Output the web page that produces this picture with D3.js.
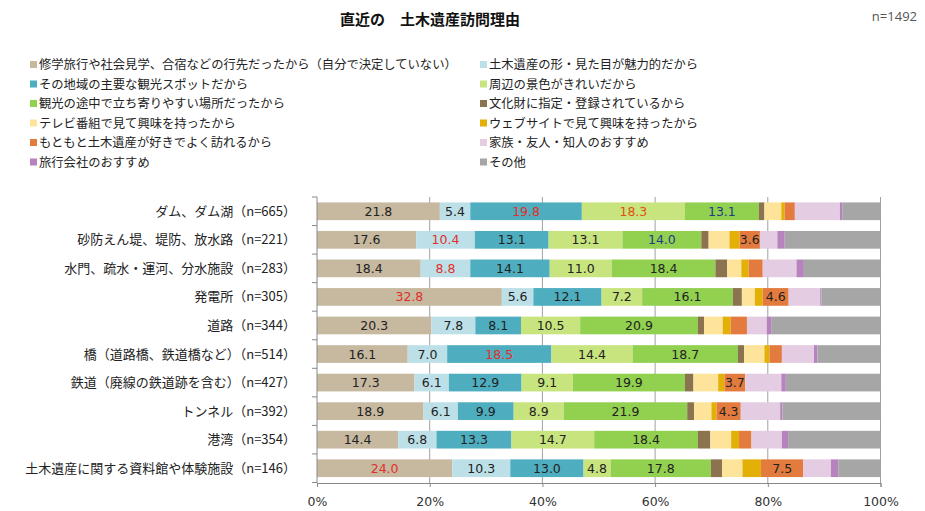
<!DOCTYPE html>
<html>
<head>
<meta charset="utf-8">
<script src="https://cdn.jsdelivr.net/npm/d3@7"></script>
<style>
  body { margin: 0; background: #fff; }
  svg { display: block; }
</style>
</head>
<body>
<svg id="chart" width="925" height="511"></svg>
<script>
const series = [
    "修学旅行や社会見学、合宿などの行先だったから（自分で決定していない）",
    "土木遺産の形・見た目が魅力的だから",
    "その地域の主要な観光スポットだから",
    "周辺の景色がきれいだから",
    "観光の途中で立ち寄りやすい場所だったから",
    "文化財に指定・登録されているから",
    "テレビ番組で見て興味を持ったから",
    "ウェブサイトで見て興味を持ったから",
    "もともと土木遺産が好きでよく訪れるから",
    "家族・友人・知人のおすすめ",
    "旅行会社のおすすめ",
    "その他"
];

const categories = [
    "ダム、ダム湖（n=665）",
    "砂防えん堤、堤防、放水路（n=221）",
    "水門、疏水・運河、分水施設（n=283）",
    "発電所（n=305）",
    "道路（n=344）",
    "橋（道路橋、鉄道橋など）（n=514）",
    "鉄道（廃線の鉄道跡を含む）（n=427）",
    "トンネル（n=392）",
    "港湾（n=354）",
    "土木遺産に関する資料館や体験施設（n=146）"
];

// one row per category, one value per series (%)
const values = [
    [21.8, 5.4, 19.8, 18.3, 13.1, 1.0, 3.0, 0.6, 1.8, 8.0, 0.4, 6.8],
    [17.6, 10.4, 13.1, 13.1, 14.0, 1.3, 3.7, 1.8, 3.6, 3.1, 1.3, 17.0],
    [18.4, 8.8, 14.1, 11.0, 18.4, 2.1, 2.5, 1.3, 2.5, 6.0, 1.3, 13.6],
    [32.8, 5.6, 12.1, 7.2, 16.1, 1.6, 2.3, 1.4, 4.6, 5.6, 0.2, 10.5],
    [20.3, 7.8, 8.1, 10.5, 20.9, 1.1, 3.3, 1.4, 2.9, 3.5, 0.9, 19.3],
    [16.1, 7.0, 18.5, 14.4, 18.7, 1.1, 3.6, 0.9, 2.2, 5.7, 0.6, 11.2],
    [17.3, 6.1, 12.9, 9.1, 19.9, 1.5, 4.4, 1.1, 3.7, 6.4, 0.8, 16.8],
    [18.9, 6.1, 9.9, 8.9, 21.9, 1.2, 3.1, 0.9, 4.3, 7.0, 0.4, 17.4],
    [14.4, 6.8, 13.3, 14.7, 18.4, 2.2, 3.7, 1.4, 2.2, 5.4, 1.1, 16.4],
    [24.0, 10.3, 13.0, 4.8, 17.8, 2.0, 3.6, 3.3, 7.5, 4.9, 1.3, 7.5]
];

const xTicks = [0, 20, 40, 60, 80, 100];

const colors = ["#c7b8a0", "#bde0e8", "#4eaebf", "#c8e47e", "#92d050", "#8c7350",
    "#fde49a", "#e3b008", "#e27b3d", "#e4cce2", "#b783bf", "#a6a6a6"];

// which segments carry a number, and the odd coloured ones
const labeledSeries = [0, 1, 2, 3, 4, 8];
const labelColor = {
    "0-2": "#e0302a", "0-3": "#e05010", "0-4": "#1f3c88",
    "1-1": "#e0302a", "1-4": "#1f3c88",
    "2-1": "#e0302a", "3-0": "#e0302a", "5-2": "#e0302a", "9-0": "#e0302a"
};

const svg = d3.select("#chart");
const jp = "'Noto Sans CJK JP', 'Noto Sans', sans-serif";
const num = "'DejaVu Sans', Verdana, sans-serif";

const x = d3.scaleLinear().domain([0, 100]).range([317, 880.5]);
const y = d3.scaleBand().domain(categories).range([197, 482.5])
    .paddingInner(0.38).paddingOuter(0.19);

// title
svg.append("text")
    .attr("x", 430).attr("y", 25)
    .attr("text-anchor", "middle")
    .style("font-family", jp).style("font-size", "15px").style("font-weight", "bold")
    .attr("fill", "#111")
    .text("直近の　土木遺産訪問理由");

svg.append("text")
    .attr("x", 917).attr("y", 21)
    .attr("text-anchor", "end")
    .style("font-family", "'Open Sans', sans-serif").style("font-size", "13px")
    .attr("fill", "#555")
    .text("n=1492");

// legend, two columns
const legend = svg.append("g");
series.forEach((s, i) => {
    const col = i % 2, row = Math.floor(i / 2);
    const lx = col === 0 ? 30 : 480;
    const ly = 65 + row * 19.5;
    legend.append("rect")
        .attr("x", lx).attr("y", ly - 4).attr("width", 7).attr("height", 7)
        .attr("fill", colors[i]);
    legend.append("text")
        .attr("x", lx + 9).attr("y", ly + 4)
        .style("font-family", jp).style("font-size", "12.3px")
        .attr("fill", "#222")
        .text(s);
});

// gridlines
svg.append("g")
    .selectAll("line")
    .data(xTicks.slice(1))
    .join("line")
    .attr("x1", d => x(d)).attr("x2", d => x(d))
    .attr("y1", 197).attr("y2", 483)
    .attr("stroke", "#a0a0a0").attr("stroke-width", 1);

// stacked bars
const stack = d3.stack()
    .keys(d3.range(series.length))
    .value((row, k) => row[k]);
const layers = stack(values);

const bars = svg.append("g");
layers.forEach((layer, si) => {
    bars.selectAll(null)
        .data(layer.map((d, ri) => ({d, ri})))
        .join("rect")
        .attr("x", o => x(o.d[0]))
        .attr("y", o => y(categories[o.ri]))
        .attr("width", o => x(o.d[1]) - x(o.d[0]))
        .attr("height", y.bandwidth())
        .attr("fill", colors[si]);
});

// value labels
layers.forEach((layer, si) => {
    if (!labeledSeries.includes(si)) return;
    const items = layer.map((d, ri) => ({d, ri, v: values[ri][si]}))
        .filter(o => o.v >= 3.5);
    bars.selectAll(null)
        .data(items)
        .join("text")
        .attr("x", o => (x(o.d[0]) + x(o.d[1])) / 2)
        .attr("y", o => y(categories[o.ri]) + y.bandwidth() / 2 + 4.5)
        .attr("text-anchor", "middle")
        .style("font-family", num).style("font-size", "12.5px")
        .attr("fill", o => labelColor[o.ri + "-" + si] || "#222")
        .text(o => o.v.toFixed(1));
});

// x axis
const xAxis = svg.append("g")
    .attr("transform", "translate(0,483)")
    .call(d3.axisBottom(x).tickValues(xTicks).tickSize(4).tickFormat(d => d + "%"));
xAxis.select(".domain").attr("stroke", "#888");
xAxis.selectAll(".tick line").attr("stroke", "#888");
xAxis.selectAll(".tick text")
    .attr("y", 14)
    .style("font-family", num).style("font-size", "12.5px")
    .attr("fill", "#333");

// y axis with ticks between the bands
const yAxis = svg.append("g").attr("transform", "translate(317,0)");
yAxis.append("line")
    .attr("x1", 0).attr("x2", 0).attr("y1", 197).attr("y2", 483)
    .attr("stroke", "#888");
const step = y.step();
yAxis.selectAll(".yt")
    .data(d3.range(categories.length + 1))
    .join("line")
    .attr("class", "yt")
    .attr("x1", -5).attr("x2", 0)
    .attr("y1", i => 197 + i * step).attr("y2", i => 197 + i * step)
    .attr("stroke", "#888");

svg.append("g")
    .selectAll("text")
    .data(categories)
    .join("text")
    .attr("x", 296)
    .attr("y", d => y(d) + y.bandwidth() / 2 + 4.5)
    .attr("text-anchor", "end")
    .style("font-family", jp).style("font-size", "13px")
    .attr("fill", "#222")
    .text(d => d);
</script>
</body>
</html>
